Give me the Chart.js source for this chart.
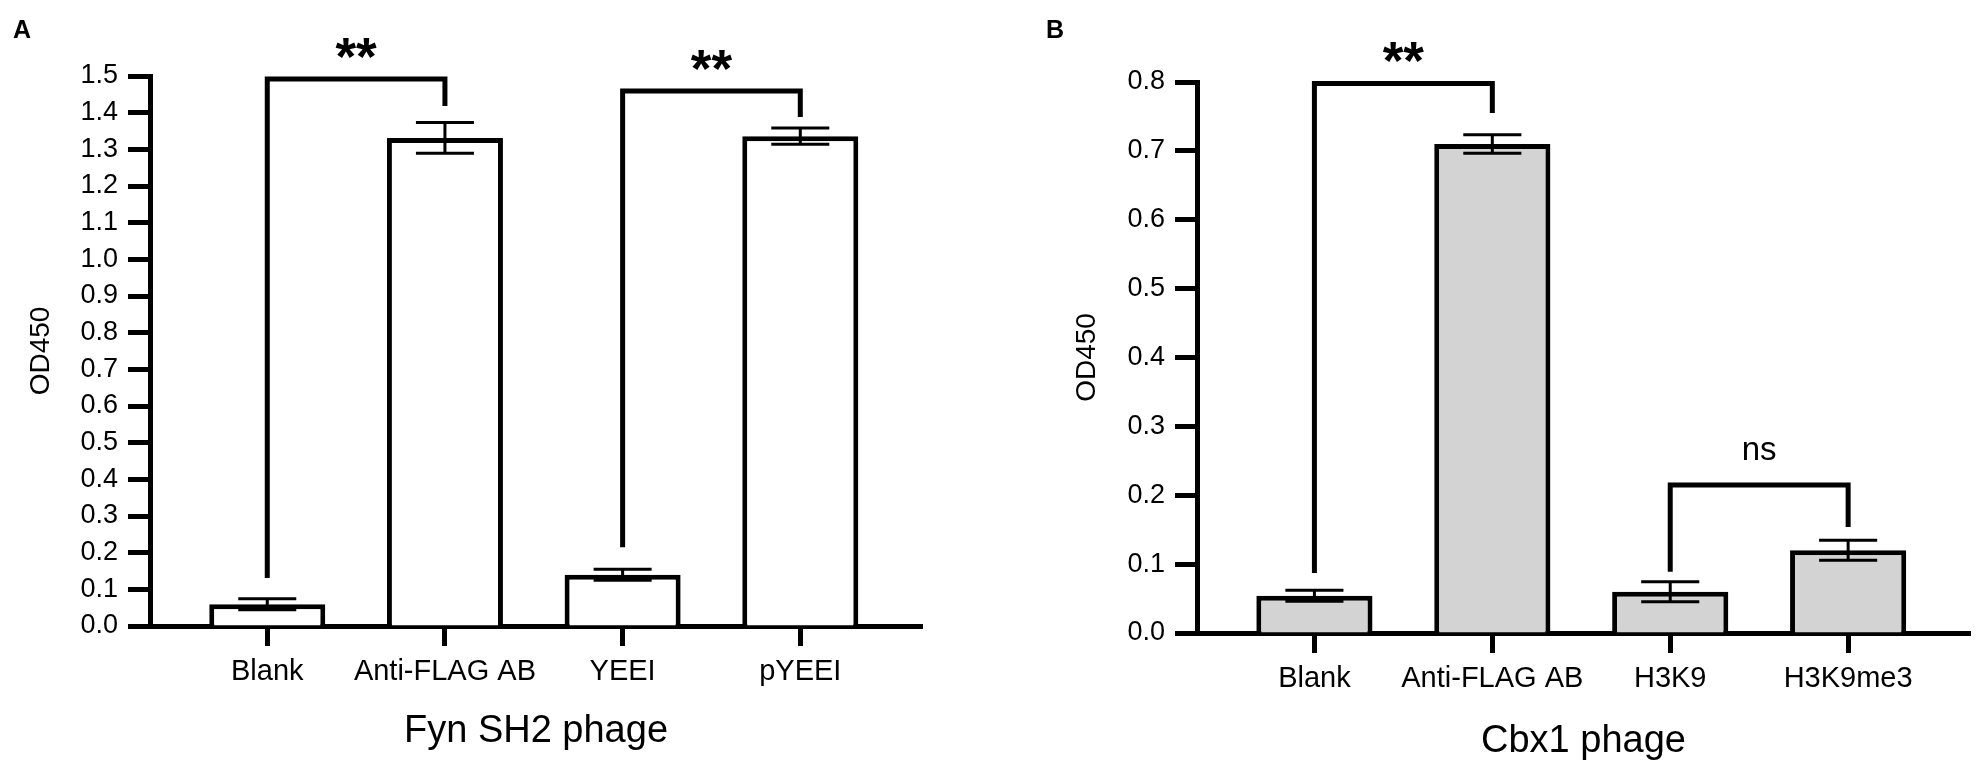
<!DOCTYPE html>
<html>
<head>
<meta charset="utf-8">
<script src="https://cdn.jsdelivr.net/npm/chart.js@4.4.1/dist/chart.umd.min.js"></script>
<style>
  html, body { margin: 0; padding: 0; background: #fff; }
  #wrap { position: relative; width: 1979px; height: 771px; overflow: hidden; background: #fff; }
  canvas { position: absolute; top: 0; }
  .tag { position: absolute; font: bold 25px 'Liberation Sans', Arial, sans-serif; line-height: 25px; color: #000; }
</style>
</head>
<body>
<div id="wrap">
  <canvas id="chartA" width="990" height="771" style="left:0;width:990px;height:771px"></canvas>
  <canvas id="chartB" width="989" height="771" style="left:990px;width:989px;height:771px"></canvas>
  <div class="tag" style="left:13px;top:17px">A</div>
  <div class="tag" style="left:1046px;top:17px">B</div>
</div>
<script>
const FONT = "'Liberation Sans', Arial, Helvetica, sans-serif";

// ===== Panel A: Fyn SH2 phage =====
const catsA = ["Blank", "Anti-FLAG AB", "YEEI", "pYEEI"];
const meanA = [0.059, 1.331, 0.140, 1.336];
const errA = [0.015, 0.042, 0.015, 0.022];
const yTicksA = [0.0, 0.1, 0.2, 0.3, 0.4, 0.5, 0.6, 0.7, 0.8, 0.9, 1.0, 1.1, 1.2, 1.3, 1.4, 1.5];
// [from, to, bracket top, left leg end, right leg end, label]
const bracketsA = [
  [0, 1, 1.492, 0.131, 1.418, "**"],
  [2, 3, 1.459, 0.215, 1.388, "**"]
];

// ===== Panel B: Cbx1 phage =====
const catsB = ["Blank", "Anti-FLAG AB", "H3K9", "H3K9me3"];
const meanB = [0.054, 0.710, 0.060, 0.120];
const errB = [0.008, 0.0135, 0.0145, 0.0145];
const yTicksB = [0.0, 0.1, 0.2, 0.3, 0.4, 0.5, 0.6, 0.7, 0.8];
const bracketsB = [
  [0, 1, 0.798, 0.087, 0.755, "**"],
  [2, 3, 0.215, 0.089, 0.154, "ns"]
];

// label look for the significance marks
const sigLabels = {
  "**": { font: "bold 53px " + FONT, gap: 4 },
  "ns": { font: "33px " + FONT, gap: 25 }
};

// error bars (mean +/- err), drawn over the bars
const errorBars = {
  id: "errorBars",
  afterDatasetsDraw(chart, args, o) {
    const ctx = chart.ctx, y = chart.scales.y;
    const ds = chart.data.datasets[0];
    ctx.save();
    ctx.strokeStyle = "#000";
    ctx.lineWidth = 3;
    chart.getDatasetMeta(0).data.forEach((bar, i) => {
      const m = ds.data[i].y, e = o.errors[i];
      const hi = y.getPixelForValue(m + e), lo = y.getPixelForValue(m - e);
      const w = bar.width / 4;
      ctx.beginPath();
      ctx.moveTo(bar.x, hi); ctx.lineTo(bar.x, lo);
      ctx.moveTo(bar.x - w, hi); ctx.lineTo(bar.x + w, hi);
      ctx.moveTo(bar.x - w, lo); ctx.lineTo(bar.x + w, lo);
      ctx.stroke();
    });
    ctx.restore();
  }
};

// significance brackets
const brackets = {
  id: "brackets",
  afterDraw(chart, args, o) {
    const { ctx, scales: { x, y } } = chart;
    ctx.save();
    ctx.strokeStyle = "#000";
    ctx.fillStyle = "#000";
    ctx.lineWidth = 5;
    ctx.lineJoin = "miter";
    ctx.lineCap = "butt";
    o.list.forEach(([a, b, top, endA, endB, label]) => {
      const xa = x.getPixelForValue(a), xb = x.getPixelForValue(b);
      const yt = y.getPixelForValue(top);
      ctx.beginPath();
      ctx.moveTo(xa, y.getPixelForValue(endA));
      ctx.lineTo(xa, yt);
      ctx.lineTo(xb, yt);
      ctx.lineTo(xb, y.getPixelForValue(endB));
      ctx.stroke();
      const s = sigLabels[label];
      ctx.font = s.font;
      ctx.textAlign = "center";
      ctx.textBaseline = "alphabetic";
      ctx.fillText(label, (xa + xb) / 2, yt - s.gap);
    });
    ctx.restore();
  }
};

function panel(id, cats, means, errs, yTicks, list, title, look) {
  return new Chart(document.getElementById(id), {
    type: "bar",
    data: {
      datasets: [{
        data: cats.map((c, i) => ({ x: i, y: means[i] })),
        backgroundColor: look.fill,
        borderColor: "#000",
        borderWidth: 5,
        barPercentage: 0.653,
        categoryPercentage: 1
      }]
    },
    options: {
      responsive: false,
      animation: false,
      devicePixelRatio: 1,
      layout: { padding: { top: look.top, right: look.right, left: 0, bottom: 0 } },
      plugins: {
        legend: { display: false },
        tooltip: { enabled: false },
        errorBars: { errors: errs },
        brackets: { list: list }
      },
      scales: {
        x: {
          type: "linear",
          offset: false,
          min: -0.66,
          max: 3.685,
          afterBuildTicks: (s) => { s.ticks = cats.map((c, i) => ({ value: i })); },
          afterFit: (s) => { s.height = look.xh; },
          ticks: {
            callback: (v) => cats[v],
            autoSkip: false, maxRotation: 0, minRotation: 0,
            color: "#000", padding: 9,
            font: { family: FONT, size: 29 }
          },
          grid: { drawOnChartArea: false, offset: false, tickLength: 20, tickWidth: 5, tickColor: "#000" },
          border: { color: "#000", width: 5 },
          title: {
            display: true, text: title, color: "#000",
            font: { family: FONT, size: 38 },
            padding: { top: 0, bottom: look.xTitlePad }
          }
        },
        y: {
          min: 0,
          max: yTicks[yTicks.length - 1],
          afterBuildTicks: (s) => { s.ticks = yTicks.map((v) => ({ value: v })); },
          afterFit: (s) => { s.width = look.yw; },
          ticks: {
            callback: (v) => Number(v).toFixed(1),
            autoSkip: false, color: "#000", padding: 10,
            font: { family: FONT, size: 27 }
          },
          grid: { drawOnChartArea: false, tickLength: 22, tickWidth: 5, tickColor: "#000" },
          border: { color: "#000", width: 5 },
          title: {
            display: true, text: "OD450", color: "#000",
            font: { family: FONT, size: 28 },
            padding: { top: look.yTitlePad, bottom: 0 }
          }
        }
      }
    },
    plugins: [errorBars, brackets]
  });
}

panel("chartA", catsA, meanA, errA, yTicksA, bracketsA, "Fyn SH2 phage",
  { fill: "#ffffff", top: 76, right: 68, xh: 145, yw: 150, xTitlePad: 17, yTitlePad: 24 });
panel("chartB", catsB, meanB, errB, yTicksB, bracketsB, "Cbx1 phage",
  { fill: "#d3d3d3", top: 82, right: 9, xh: 138, yw: 207, xTitlePad: 7, yTitlePad: 80 });
</script>
</body>
</html>
